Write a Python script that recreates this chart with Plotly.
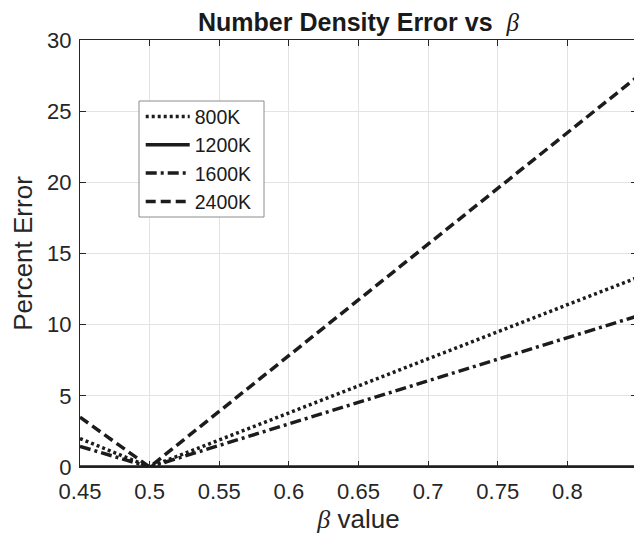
import plotly.graph_objects as go

beta = [0.45, 0.5, 0.85]
err_800 = [2.0, 0.0, 13.3]
err_1200 = [0.0, 0.0, 0.0]
err_1600 = [1.45, 0.0, 10.6]
err_2400 = [3.5, 0.0, 27.4]

labels = ["800K", "1200K", "1600K", "2400K"]
series = [err_800, err_1200, err_1600, err_2400]
dashes = ["3px,3px", "solid", "11px,4px,3px,4px", "10px,5px"]

x_ticks = [0.45, 0.5, 0.55, 0.6, 0.65, 0.7, 0.75, 0.8]
x_ticktext = ["0.45", "0.5", "0.55", "0.6", "0.65", "0.7", "0.75", "0.8"]
y_ticks = [0, 5, 10, 15, 20, 25, 30]

fig = go.Figure()
for lab, ys, d in zip(labels, series, dashes):
    fig.add_trace(go.Scatter(
        x=beta, y=ys, mode="lines", name=lab,
        line=dict(color="#1c1c1c", width=3.5, dash=d),
        cliponaxis=False,
    ))

axis_common = dict(
    showline=True, linecolor="#262626", linewidth=1, mirror="allticks",
    ticks="inside", ticklen=6, tickcolor="#262626", tickwidth=1,
    showgrid=True, gridcolor="#e3e3e3", gridwidth=1, zeroline=False,
    automargin=False,
    tickfont=dict(family="Liberation Sans", size=22, color="#262626"),
)

# page body has an 8px default margin; figure sized/offset to compensate
W, H = 634, 533
fig.update_layout(
    width=W, height=H,
    margin=dict(l=72, r=5, t=32, b=74),
    paper_bgcolor="white", plot_bgcolor="white",
    font=dict(family="Liberation Sans", color="#262626"),
    title=dict(
        text="<b>Number Density Error vs </b> <span style='font-family:Liberation Serif;font-weight:normal'><i>β</i></span>",
        font=dict(family="Liberation Sans", size=25, color="#1a1a1a"),
        x=0.5, xref="paper", xanchor="center",
        y=1 - 14 / H, yref="container", yanchor="middle",
    ),
    xaxis=dict(
        range=[0.45, 0.85], tickvals=x_ticks, ticktext=x_ticktext,
        ticklabelstandoff=5,
        title=dict(text="<span style='font-family:Liberation Serif'><i>β</i></span> value",
                   font=dict(family="Liberation Sans", size=26, color="#262626"), standoff=4),
        **axis_common,
    ),
    yaxis=dict(
        range=[0, 30], tickvals=y_ticks,
        ticklabelstandoff=3,
        title=dict(text="Percent Error", font=dict(family="Liberation Sans", size=26, color="#262626"), standoff=10),
        **axis_common,
    ),
    legend=dict(
        x=0.109, y=0.866, xanchor="left", yanchor="top",
        bgcolor="rgba(0,0,0,0)", borderwidth=0,
        font=dict(family="Liberation Sans", size=19.5, color="#1a1a1a"),
        itemwidth=44, tracegroupgap=0,
    ),
    shapes=[dict(
        type="rect", xref="paper", yref="paper", layer="above",
        x0=(139 - 80) / 557, x1=(264 - 80) / 557,
        y0=(467 - 217) / 427, y1=(467 - 101) / 427,
        fillcolor="white", line=dict(color="#8c8c8c", width=1),
    )],
    showlegend=True,
)

fig.write_html("out.html")
